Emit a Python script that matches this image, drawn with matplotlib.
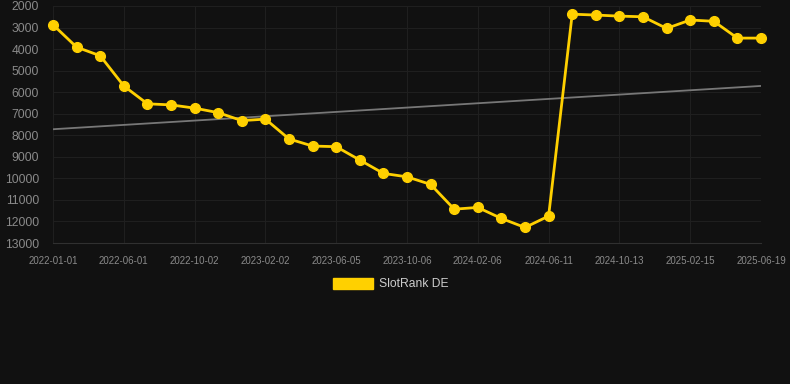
import matplotlib
matplotlib.use("Agg")
import matplotlib.pyplot as plt
from matplotlib.patches import Patch

# rank values, one per period (category axis)
ranks = [2870, 3910, 4310, 5710, 6540, 6590, 6740, 6950, 7320, 7250,
         8170, 8500, 8530, 9150, 9770, 9930, 10280, 11430, 11350, 11860,
         12280, 11750, 2380, 2420, 2470, 2500, 3040, 2650, 2710, 3490, 3490]
tick_labels = ["2022-01-01", "2022-06-01", "2022-10-02", "2023-02-02",
               "2023-06-05", "2023-10-06", "2024-02-06", "2024-06-11",
               "2024-10-13", "2025-02-15", "2025-06-19"]
trend = [7720, 5710]
y_ticks = [2000, 3000, 4000, 5000, 6000, 7000, 8000, 9000, 10000, 11000, 12000, 13000]

bg = "#111111"
yellow = "#FFD000"
plt.rcParams["font.family"] = ["Liberation Sans", "DejaVu Sans"]

fig = plt.figure(figsize=(7.9, 3.84), dpi=100, facecolor=bg)
ax = fig.add_axes([53/790, 1 - 243/384, (761 - 53)/790, (243 - 6)/384])
ax.set_facecolor(bg)

x = list(range(len(ranks)))
ax.plot([x[0], x[-1]], trend, color="#777777", lw=1.3, zorder=2)
ax.plot(x, ranks, color=yellow, lw=2, marker="o", ms=7, zorder=3, clip_on=False)

ax.set_xlim(x[0], x[-1])
ax.set_ylim(13000, 2000)
ax.set_yticks(y_ticks)
ax.set_yticklabels([str(v) for v in y_ticks])
ax.set_xticks(x[::3])
ax.set_xticklabels(tick_labels)

ax.grid(True, color="#1f1f1f", lw=0.8)
ax.set_axisbelow(True)
for s in ["top", "right", "left"]:
    ax.spines[s].set_visible(False)
ax.spines["bottom"].set_color("#303030")
ax.tick_params(axis="y", length=0, labelsize=8.7, colors="#8a8a8a", pad=10)
ax.tick_params(axis="x", length=0, labelsize=7, colors="#8a8a8a", pad=9)

fig.legend(handles=[Patch(facecolor=yellow, edgecolor=yellow, label="SlotRank DE")],
           loc="center", bbox_to_anchor=(0.495, 1 - 284/384), frameon=False,
           fontsize=8.7, labelcolor="#cccccc", handlelength=3.3, handleheight=1.0,
           handletextpad=0.5)

fig.savefig("out.png", dpi=100, facecolor=bg)
